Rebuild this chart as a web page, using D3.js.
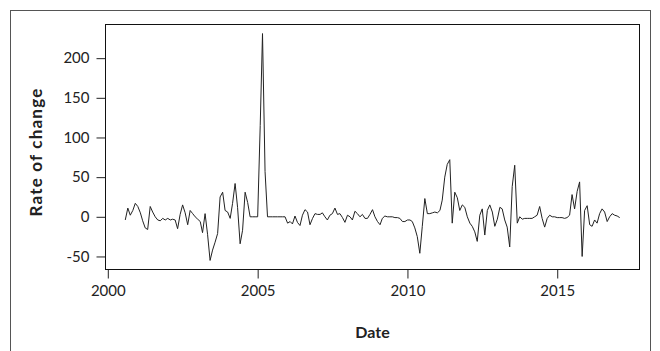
<!DOCTYPE html>
<html>
<head>
<meta charset="utf-8">
<script src="https://cdn.jsdelivr.net/npm/d3@7"></script>
<style>
  html, body { margin: 0; padding: 0; background: #fff; }
  svg { display: block; }
</style>
</head>
<body>
<svg id="chart" width="660" height="351"></svg>
<script>
// Monthly rate of change, starting August 2000
const startMonth = "2000-08";
const rateValues = [
  -4, 11, 2, 8, 17, 13, 5, -5, -14, -16, 13, 6,
  0, -4, -5, -2, -4, -2, -4, -3, -4, -15, 3, 15,
  5, -10, 8, 4, 0, -3, -6, -20, 4, -22, -55, -42,
  -32, -21, 25, 31, 8, 6, -2, 17, 42, 12, -34, -17,
  31, 18, 0, 0, 0, 0, 115, 231, 57, 0, 0, 0,
  0, 0, 0, 0, 0, -8, -6, -9, 1, -7, -11, 2,
  9, 6, -10, -2, 4, 3, 3, 5, 0, -4, 2, 4,
  11, 3, 4, -1, -7, 2, 0, -4, 7, 4, 0, 3,
  -2, -2, 3, 9, 0, -6, -10, -2, 1, 0, 0, 0,
  -1, -1, -2, -6, -6, -4, -4, -6, -14, -25, -46, -12,
  23, 4, 4, 5, 6, 5, 8, 21, 50, 66, 72, -8,
  31, 24, 8, 15, 12, 0, -8, -12, -19, -31, 2, 10,
  -23, 8, 15, 6, -12, -3, 12, 10, -4, -13, -38, 38,
  65, -8, 0, -3, -2, -2, -2, -2, 0, 2, 13, -2,
  -13, -2, 2, 0, 0, -1, -1, -1, -2, -1, 2, 28,
  10, 32, 44, -50, 8, 14, -10, -12, -4, -8, 4, 10,
  6, -6, 0, 4, 2, 1, -1
];
const xTickYears = [2000, 2005, 2010, 2015];
const yTickValues = [-50, 0, 50, 100, 150, 200];
const xTitle = "Date";
const yTitle = "Rate of change";

const parseMonth = d3.timeParse("%Y-%m");
const firstDate = parseMonth(startMonth);
const series = rateValues.map((v, i) => ({ date: d3.timeMonth.offset(firstDate, i), value: v }));

const svg = d3.select("#chart");
const box = { left: 105.5, top: 24.5, right: 639.5, bottom: 269.5 };
const fontFamily = "Lato, 'Open Sans', sans-serif";

// outer frame around the whole figure
svg.append("rect")
  .attr("x", 10.5).attr("y", 10.5)
  .attr("width", 640).attr("height", 400)
  .attr("fill", "none").attr("stroke", "#555").attr("stroke-width", 1);

// 4% padding on each side of the data range
function padded(extent) {
  const span = extent[1] - extent[0];
  return [extent[0] - span * 0.04, extent[1] + span * 0.04];
}
const tExt = d3.extent(series, d => +d.date);
const tDom = padded(tExt).map(t => new Date(t));
const yDom = padded(d3.extent(series, d => d.value));

const x = d3.scaleTime().domain(tDom).range([box.left, box.right]);
const y = d3.scaleLinear().domain(yDom).range([box.bottom, box.top]);

// y axis (plain hyphen for negatives)
const yAxis = svg.append("g")
  .attr("transform", `translate(${box.left},0)`)
  .call(d3.axisLeft(y).tickValues(yTickValues).tickSize(9).tickPadding(7)
    .tickFormat(d => String(d)));
yAxis.select(".domain").remove();
yAxis.selectAll("line").attr("stroke", "#222");
yAxis.selectAll("text")
  .attr("font-family", fontFamily).attr("font-size", 15).attr("fill", "#222");

// x axis
const xAxis = svg.append("g")
  .attr("transform", `translate(0,${box.bottom})`)
  .call(d3.axisBottom(x)
    .tickValues(xTickYears.map(yr => new Date(yr, 0, 1)))
    .tickSize(9).tickPadding(7)
    .tickFormat(d3.timeFormat("%Y")));
xAxis.select(".domain").remove();
xAxis.selectAll("line").attr("stroke", "#222");
xAxis.selectAll("text")
  .attr("font-family", fontFamily).attr("font-size", 15).attr("fill", "#222");

// plot box
svg.append("rect")
  .attr("x", box.left).attr("y", box.top)
  .attr("width", box.right - box.left).attr("height", box.bottom - box.top)
  .attr("fill", "none").attr("stroke", "#111").attr("stroke-width", 1);

// series line
const line = d3.line().x(d => x(d.date)).y(d => y(d.value));
svg.append("path")
  .datum(series)
  .attr("d", line)
  .attr("fill", "none")
  .attr("stroke", "#222")
  .attr("stroke-width", 1);

// axis titles
svg.append("text")
  .attr("x", (box.left + box.right) / 2).attr("y", 338)
  .attr("text-anchor", "middle")
  .attr("font-family", fontFamily).attr("font-weight", "bold").attr("font-size", 16)
  .attr("fill", "#222")
  .text(xTitle);

svg.append("text")
  .attr("transform", `translate(42,152) rotate(-90)`)
  .attr("text-anchor", "middle")
  .attr("font-family", fontFamily).attr("font-weight", "bold").attr("font-size", 17)
  .attr("letter-spacing", 1.2)
  .attr("fill", "#222")
  .text(yTitle);
</script>
</body>
</html>
